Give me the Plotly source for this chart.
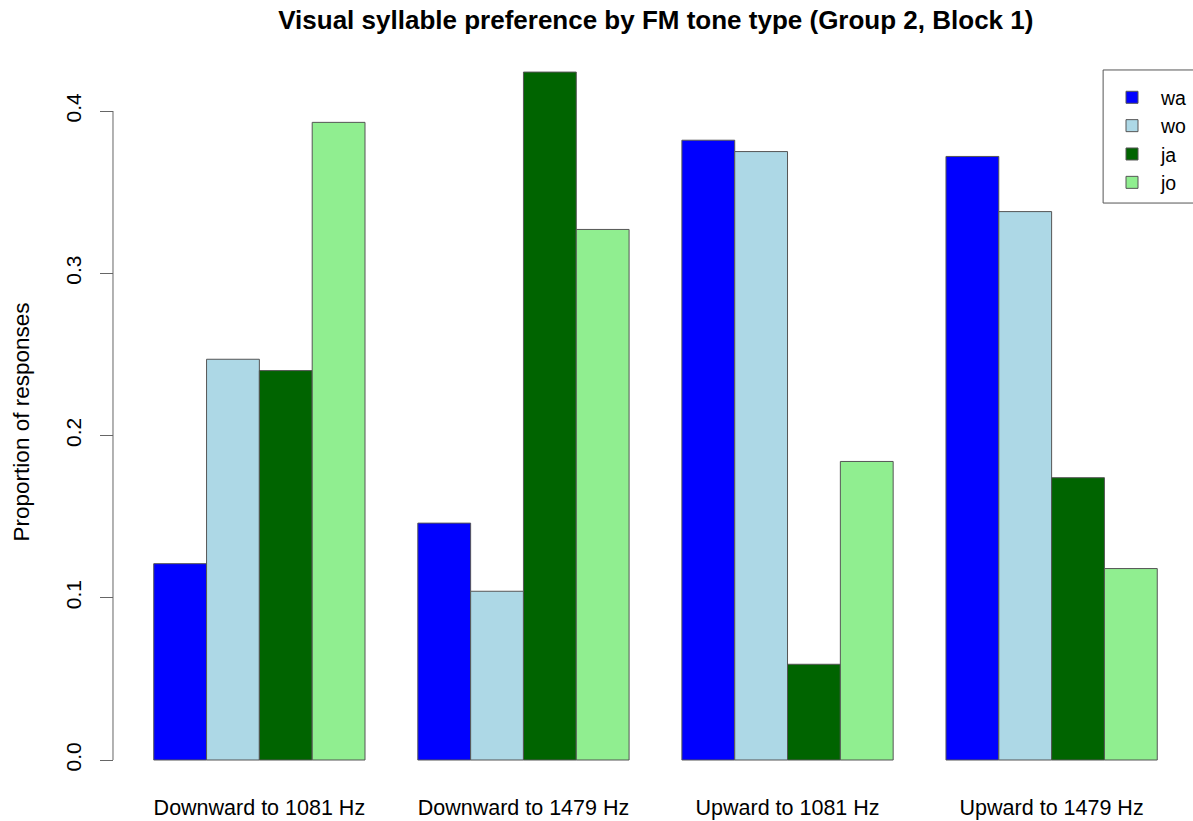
import plotly.graph_objects as go

categories = ["Downward to 1081 Hz", "Downward to 1479 Hz", "Upward to 1081 Hz", "Upward to 1479 Hz"]
syllables = ["wa", "wo", "ja", "jo"]
wa = [0.121, 0.146, 0.382, 0.372]
wo = [0.247, 0.104, 0.375, 0.338]
ja = [0.240, 0.424, 0.059, 0.174]
jo = [0.393, 0.327, 0.184, 0.118]
series = [wa, wo, ja, jo]
colors = ["#0000FF", "#ADD8E6", "#006400", "#90EE90"]
ytick_vals = [0.0, 0.1, 0.2, 0.3, 0.4]

FONT = "Liberation Sans, Arial, Helvetica, sans-serif"

fig = go.Figure()
for name, vals, col in zip(syllables, series, colors):
    fig.add_trace(go.Bar(
        x=list(range(len(categories))), y=vals, name=name,
        marker=dict(color=col, line=dict(color="#555555", width=1)),
    ))

# y axis line only from 0 to 0.4 (R style)
fig.add_shape(type="line", xref="paper", yref="y",
              x0=0.0119, x1=0.0119, y0=ytick_vals[0], y1=ytick_vals[-1],
              line=dict(color="#666666", width=1))

# legend box (R style, running off the right edge)
fig.add_shape(type="rect", xref="paper", yref="paper",
              x0=0.9186, x1=1.005, y0=0.7932, y1=0.973,
              line=dict(color="#555555", width=1), fillcolor="rgba(0,0,0,0)")

fig.add_annotation(text="Proportion of responses", textangle=-90,
                   xref="paper", yref="y", x=-0.072, y=0.2083,
                   showarrow=False, font=dict(family=FONT, size=22.5, color="black"),
                   xanchor="center", yanchor="middle")

fig.update_layout(
    width=1193, height=821, autosize=False,
    margin=dict(l=100, r=0, t=50, b=31),
    plot_bgcolor="white", paper_bgcolor="white",
    barmode="group", bargap=0.2, bargroupgap=0,
    font=dict(family=FONT, size=21, color="black"),
    title=dict(text="<b>Visual syllable preference by FM tone type (Group 2, Block 1)</b>",
               x=0.509, xref="paper", xanchor="center",
               y=1 - 20 / 821, yref="container", yanchor="middle",
               font=dict(family=FONT, size=26, color="black")),
    xaxis=dict(tickmode="array", tickvals=list(range(len(categories))), ticktext=categories,
               range=[-0.6035, 3.5316], showgrid=False, zeroline=False, showline=False,
               ticks="", tickfont=dict(size=21.5), ticklabelstandoff=2),
    yaxis=dict(range=[-0.01849, 0.4376], tickvals=ytick_vals, tickformat=".1f",
               tickangle=-90, ticks="outside", ticklen=13, tickcolor="#666666",
               showgrid=False, zeroline=False, showline=False,
               anchor="free", position=0.0119, tickfont=dict(size=21),
               ticklabelstandoff=11),
    legend=dict(x=0.9186, y=0.962, xanchor="left", yanchor="top",
                borderwidth=0, bgcolor="rgba(0,0,0,0)",
                font=dict(size=19.5), itemwidth=48, entrywidth=100),
    showlegend=True,
)

fig.write_html("out.html")
